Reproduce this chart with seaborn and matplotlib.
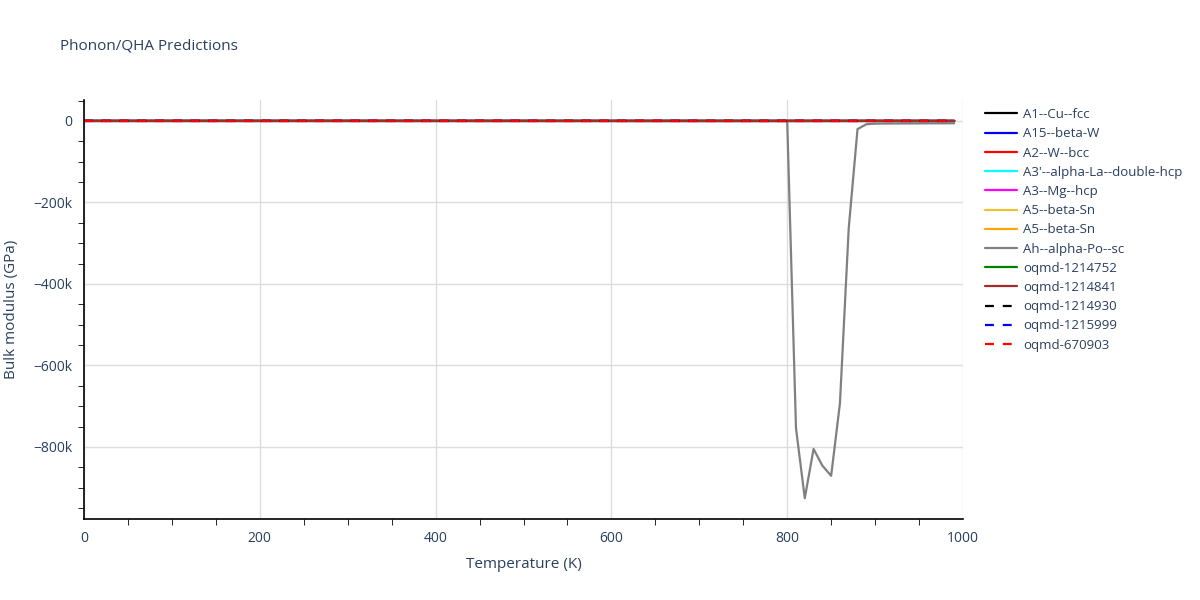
import numpy as np
import pandas as pd
import seaborn as sns
import matplotlib.pyplot as plt
from matplotlib.ticker import FuncFormatter, MultipleLocator

# temperatures (K) for the flat series
temps = [0, 100, 200, 300, 400, 500, 600, 700, 800, 900, 990]

# near-zero bulk modulus series (GPa)
a1_cu_fcc = [140, 138, 135, 132, 129, 126, 123, 120, 117, 114, 111]
a15_beta_w = [150, 148, 146, 143, 140, 137, 134, 131, 128, 125, 122]
a2_w_bcc = [160, 158, 156, 153, 150, 147, 144, 141, 138, 135, 132]
a3p_alpha_la = [120, 118, 116, 113, 110, 107, 104, 101, 98, 95, 92]
a3_mg_hcp = [130, 128, 126, 123, 120, 117, 114, 111, 108, 105, 102]
a5_beta_sn_1 = [110, 108, 106, 103, 100, 97, 94, 91, 88, 85, 82]
a5_beta_sn_2 = [115, 113, 111, 108, 105, 102, 99, 96, 93, 90, 87]
oqmd_1214752 = [125, 123, 121, 118, 115, 112, 109, 106, 103, 100, 97]
oqmd_1214841 = [145, 143, 141, 138, 135, 132, 129, 126, 123, 120, 117]
oqmd_1214930 = [135, 133, 131, 128, 125, 122, 119, 116, 113, 110, 107]
oqmd_1215999 = [155, 153, 151, 148, 145, 142, 139, 136, 133, 130, 127]
oqmd_670903 = [165, 163, 161, 158, 155, 152, 149, 146, 143, 140, 137]

# Ah--alpha-Po--sc, which blows up above 800 K
po_temps = [0, 200, 400, 600, 800, 810, 820, 830, 840, 850, 860, 870, 880, 890,
            900, 920, 940, 960, 980, 990]
po_vals = [100, 100, 100, 100, 0, -754000, -926000, -805000, -846000, -871000,
           -693000, -263000, -20000, -8000, -6500, -6200, -6000, -5800, -5700, -5600]

dash = (0, (4, 4))
series = [
    ("A1--Cu--fcc", temps, a1_cu_fcc, "black", "-"),
    ("A15--beta-W", temps, a15_beta_w, "blue", "-"),
    ("A2--W--bcc", temps, a2_w_bcc, "red", "-"),
    ("A3'--alpha-La--double-hcp", temps, a3p_alpha_la, "cyan", "-"),
    ("A3--Mg--hcp", temps, a3_mg_hcp, "magenta", "-"),
    ("A5--beta-Sn", temps, a5_beta_sn_1, "#f0c030", "-"),
    ("A5--beta-Sn ", temps, a5_beta_sn_2, "orange", "-"),
    ("Ah--alpha-Po--sc", po_temps, po_vals, "gray", "-"),
    ("oqmd-1214752", temps, oqmd_1214752, "green", "-"),
    ("oqmd-1214841", temps, oqmd_1214841, "brown", "-"),
    ("oqmd-1214930", temps, oqmd_1214930, "black", dash),
    ("oqmd-1215999", temps, oqmd_1215999, "blue", dash),
    ("oqmd-670903", temps, oqmd_670903, "red", dash),
]

sns.set_style("white")
plt.rcParams['font.family'] = ['Open Sans', 'DejaVu Sans']
txt = "#2a3f5f"

fig = plt.figure(figsize=(12, 6), dpi=100)
ax = fig.add_axes([0.07, 0.135, 0.7325, 0.698])

for name, x, y, c, ls in series:
    df = pd.DataFrame({"T": x, "B": y})
    sns.lineplot(data=df, x="T", y="B", ax=ax, color=c, linestyle=ls,
                 linewidth=1.6, label=name.strip())

ax.set_xlim(0, 1000)
ax.set_ylim(-977000, 51000)
ax.xaxis.set_major_locator(MultipleLocator(200))
ax.xaxis.set_minor_locator(MultipleLocator(50))
ax.yaxis.set_major_locator(MultipleLocator(200000))
ax.yaxis.set_minor_locator(MultipleLocator(50000))

def kfmt(v, pos):
    if v == 0:
        return "0"
    return "\u2212%dk" % abs(round(v / 1000))

ax.yaxis.set_major_formatter(FuncFormatter(kfmt))
ax.grid(True, which="major", color="#dddddd", linewidth=1)
ax.set_axisbelow(True)
for s in ["top", "right"]:
    ax.spines[s].set_visible(False)
for s in ["left", "bottom"]:
    ax.spines[s].set_color("black")
    ax.spines[s].set_linewidth(1.2)
ax.tick_params(which="major", length=5, color="#dddddd", labelsize=10, labelcolor=txt)
ax.tick_params(axis="y", which="major", color="black")
ax.tick_params(which="minor", length=4, color="black", bottom=True, left=True)

ax.set_xlabel("Temperature (K)", fontsize=11, color=txt, labelpad=8)
ax.set_ylabel("Bulk modulus (GPa)", fontsize=11, color=txt, labelpad=10)
fig.text(0.05, 0.918, "Phonon/QHA Predictions", fontsize=11, color=txt)

leg = ax.legend(loc="upper left", bbox_to_anchor=(1.016, 1.0), frameon=False,
                fontsize=9.5, handlelength=2.4, handletextpad=0.5,
                labelspacing=0.47, borderaxespad=0.2)
for t in leg.get_texts():
    t.set_color(txt)

fig.savefig("out.png", dpi=100)
